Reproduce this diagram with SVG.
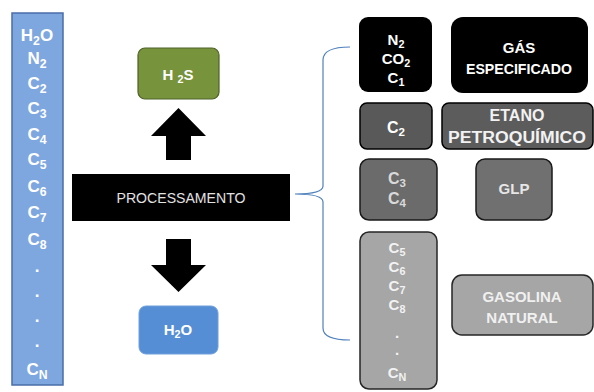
<svg xmlns="http://www.w3.org/2000/svg" width="594" height="392" viewBox="0 0 594 392">
<style>
text{font-family:"Liberation Sans",Arial,sans-serif;font-weight:bold;text-anchor:middle}
text.n{font-weight:normal}
.w{fill:#ffffff}
.sub{font-size:0.72em}
</style>
<rect width="594" height="392" fill="#ffffff"/>
<g id="feed">
<rect x="12" y="13" width="51" height="372" fill="#7ea7e0" stroke="#4a6ea8" stroke-width="1.5"/>
<g class="w" font-size="17">
<text x="37" y="41">H<tspan class="sub" dy="4">2</tspan><tspan dy="-4">O</tspan></text>
<text x="37" y="64">N<tspan class="sub" dy="4">2</tspan></text>
<text x="37" y="89">C<tspan class="sub" dy="4">2</tspan></text>
<text x="37" y="114">C<tspan class="sub" dy="4">3</tspan></text>
<text x="37" y="140">C<tspan class="sub" dy="4">4</tspan></text>
<text x="37" y="165">C<tspan class="sub" dy="4">5</tspan></text>
<text x="37" y="192">C<tspan class="sub" dy="4">6</tspan></text>
<text x="37" y="218">C<tspan class="sub" dy="4">7</tspan></text>
<text x="37" y="245">C<tspan class="sub" dy="4">8</tspan></text>
<text x="37" y="272">.</text>
<text x="37" y="297">.</text>
<text x="37" y="322">.</text>
<text x="37" y="347">.</text>
<text x="37" y="375">C<tspan class="sub" dy="4">N</tspan></text>
</g>
</g>
<g id="h2s">
<rect x="138" y="48" width="81" height="51" rx="7" fill="#77933c" stroke="#4f6228" stroke-width="1.2"/>
<text class="w" x="178" y="80" font-size="15">H <tspan class="sub" dy="3">2</tspan><tspan dy="-3">S</tspan></text>
</g>
<g id="processamento">
<rect x="72" y="174" width="218" height="47" fill="#000000"/>
<text class="n" x="181" y="203" font-size="15" fill="#e2e2e2" textLength="129" lengthAdjust="spacingAndGlyphs">PROCESSAMENTO</text>
</g>
<g id="h2o">
<rect x="139" y="306" width="79" height="48" rx="7" fill="#558ed5" stroke="#6fa0dc" stroke-width="1"/>
<text class="w" x="178" y="335" font-size="15">H<tspan class="sub" dy="3">2</tspan><tspan dy="-3">O</tspan></text>
</g>
<g id="box-c1">
<rect x="359" y="17" width="73" height="75" rx="9" fill="#000000"/>
<g class="w" font-size="15">
<text x="396" y="45">N<tspan class="sub" dy="3">2</tspan></text>
<text x="396" y="64">CO<tspan class="sub" dy="3">2</tspan></text>
<text x="396" y="83">C<tspan class="sub" dy="3">1</tspan></text>
</g>
</g>
<g id="gas">
<rect x="451" y="17" width="137" height="76" rx="12" fill="#000000"/>
<text class="w" x="519" y="53" font-size="15">GÁS</text>
<text class="w" x="519" y="74" font-size="15" textLength="106" lengthAdjust="spacingAndGlyphs">ESPECIFICADO</text>
</g>
<g id="box-c2">
<rect x="360" y="103" width="72" height="46" rx="7" fill="#595959" stroke="#000000" stroke-width="1.5"/>
<text class="w" x="396" y="133" font-size="16">C<tspan class="sub" dy="3">2</tspan></text>
</g>
<g id="etano">
<rect x="442" y="103" width="151" height="46" rx="7" fill="#5c5c5c" stroke="#000000" stroke-width="1.5"/>
<text x="517" y="121" font-size="16" fill="#f2f2f2">ETANO</text>
<text x="517" y="143" font-size="16" fill="#f2f2f2" textLength="138" lengthAdjust="spacingAndGlyphs">PETROQUÍMICO</text>
</g>
<g id="box-c3c4">
<rect x="360" y="159" width="77" height="61" rx="9" fill="#6b6b6b" stroke="#1a1a1a" stroke-width="1.5"/>
<g fill="#d9d9d9" font-size="16">
<text x="397" y="184">C<tspan class="sub" dy="3">3</tspan></text>
<text x="397" y="204">C<tspan class="sub" dy="3">4</tspan></text>
</g>
</g>
<g id="glp">
<rect x="476" y="159" width="76" height="61" rx="9" fill="#707070" stroke="#1a1a1a" stroke-width="1.5"/>
<text x="514" y="194" font-size="15" fill="#e6e6e6">GLP</text>
</g>
<g id="box-c5cn">
<rect x="360" y="232" width="77" height="157" rx="9" fill="#a6a6a6" stroke="#262626" stroke-width="1.5"/>
<g fill="#f2f2f2" font-size="15">
<text x="397" y="253">C<tspan class="sub" dy="3">5</tspan></text>
<text x="397" y="272">C<tspan class="sub" dy="3">6</tspan></text>
<text x="397" y="291">C<tspan class="sub" dy="3">7</tspan></text>
<text x="397" y="310">C<tspan class="sub" dy="3">8</tspan></text>
<text x="397" y="338">.</text>
<text x="397" y="355">.</text>
<text x="397" y="378">C<tspan class="sub" dy="3">N</tspan></text>
</g>
</g>
<g id="gasolina">
<rect x="452" y="275" width="141" height="60" rx="10" fill="#a6a6a6" stroke="#262626" stroke-width="1.5"/>
<text x="522" y="302" font-size="15" fill="#f0f0f0">GASOLINA</text>
<text x="522" y="323" font-size="15" fill="#f0f0f0">NATURAL</text>
</g>
<g id="connectors">
<polygon points="178.5,108 206,136 191,136 191,160 166,160 166,136 151,136" fill="#000000"/>
<polygon points="166,239 191,239 191,265 206,265 178.5,292 151,265 166,265" fill="#000000"/>
<path d="M350,47 Q323,47 323,60 L323,186 Q323,194 295,194 Q323,194 323,202 L323,328 Q323,340 350,340" fill="none" stroke="#4f81bd" stroke-width="1.2"/>
</g>
</svg>
